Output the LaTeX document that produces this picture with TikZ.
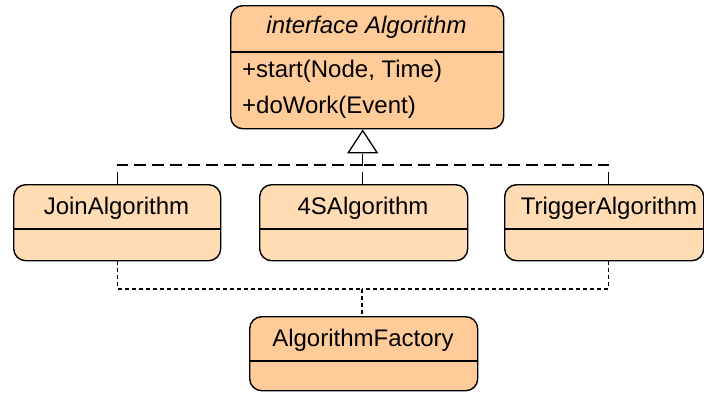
\documentclass[tikz,border=0pt]{standalone}
\usepackage{fontspec}
\setmainfont{Liberation Sans}
\usetikzlibrary{arrows.meta}
\definecolor{ifacefill}{RGB}{255,204,153}
\definecolor{classfill}{RGB}{255,220,180}
\begin{document}
\begin{tikzpicture}[x=1pt,y=-1pt,
  umlbox/.style={draw, line width=1.4pt, rounded corners=12pt, inner sep=0pt,
                 anchor=north west},
  divider/.style={line width=1.4pt},
  label/.style={font=\fontsize{24}{28}\selectfont, anchor=base, inner sep=0pt},
  member/.style={font=\fontsize{24}{28}\selectfont, anchor=base west, inner sep=0pt},
  realize/.style={line width=1.3pt, dash pattern=on 12pt off 6pt},
  depend/.style={line width=1.3pt, dash pattern=on 4pt off 3pt}]
\useasboundingbox (0,0) rectangle (704,392);

% interface
\node[umlbox, fill=ifacefill, minimum width=273pt, minimum height=123pt] (iface) at (230,5) {};
\draw[divider] (iface.west |- 0,52) -- (iface.east |- 0,52);
\node[label, font=\fontsize{24}{28}\selectfont\itshape] (ifname) at (366.5,33) {interface Algorithm};
\node[member] (m1) at (242,77) {+start(Node, Time)};
\node[member] (m2) at (242,113) {+doWork(Event)};

% implementing classes
\node[umlbox, fill=classfill, minimum width=207pt, minimum height=76pt] (join) at (13,184) {};
\draw[divider] (join.west |- 0,229) -- (join.east |- 0,229);
\node[label] (joinname) at (116.5,214) {JoinAlgorithm};

\node[umlbox, fill=classfill, minimum width=208pt, minimum height=76pt] (fours) at (259,184) {};
\draw[divider] (fours.west |- 0,229) -- (fours.east |- 0,229);
\node[label] (foursname) at (363,214) {4SAlgorithm};

\node[umlbox, fill=classfill, minimum width=199pt, minimum height=76pt] (trig) at (504,184) {};
\draw[divider] (trig.west |- 0,229) -- (trig.east |- 0,229);
\node[label] (trigname) at (609,214) {TriggerAlgorithm};

% factory
\node[umlbox, fill=ifacefill, minimum width=228pt, minimum height=74pt] (fac) at (249,316) {};
\draw[divider] (fac.west |- 0,361) -- (fac.east |- 0,361);
\node[label] (facname) at (363,346) {AlgorithmFactory};

% realization connectors
\coordinate (ub) at (362,165);
\draw[realize] (join.north) |- (ub);
\draw[realize] ([xshift=4.5pt]trig.north) |- (ub);
\draw[realize, -{Triangle[open, fill=white, length=24pt, width=31pt]}]
  ([xshift=-1pt]fours.north) -- ([xshift=-1pt]fours.north |- iface.south);

% dependency connectors
\coordinate (lb) at (362,289);
\draw[depend] (join.south) |- (lb);
\draw[depend] ([xshift=4.5pt]trig.south) |- (lb);
\draw[depend] (lb) -- (lb |- fac.north);
\end{tikzpicture}
\end{document}
